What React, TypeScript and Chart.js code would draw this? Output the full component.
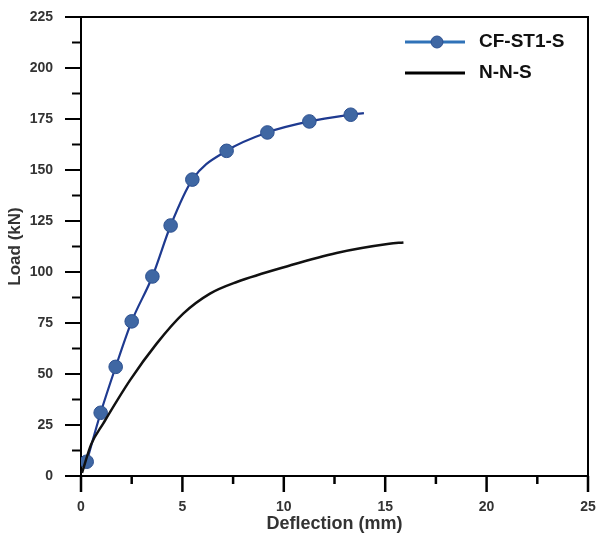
import React, { useEffect, useRef } from "react";
import { Chart, registerables } from "chart.js";

Chart.register(...registerables);

// CF-ST1-S (with markers; last point is the curve end without marker)
const cfX = [0.28, 0.97, 1.71, 2.5, 3.52, 4.42, 5.49, 7.18, 9.19, 11.26, 13.3, 13.95];
const cfY = [7.0, 31.0, 53.5, 75.8, 97.8, 122.8, 145.3, 159.4, 168.4, 173.8, 177.1, 177.9];

// N-N-S
const nnX = [0.05, 0.5, 1.1, 2.42, 3.73, 5.04, 6.36, 7.68, 10.3, 12.6, 15.2, 15.9];
const nnY = [1.5, 15.5, 25.8, 47, 64.9, 79.6, 89.4, 95.1, 103.2, 109.3, 113.8, 114.5];

const seriesNames = ["CF-ST1-S", "N-N-S"];
const xTitle = "Deflection (mm)";
const yTitle = "Load (kN)";
const xMin = 0, xMax = 25, xStep = 5, xMinorStep = 2.5;
const yMin = 0, yMax = 225, yStep = 25, yMinorStep = 12.5;

const FONT = "'Liberation Sans', Arial, sans-serif";
const BLUE_LINE = "#1e3a90";
const MARKER = "#3f67a3";
const MARKER_EDGE = "#2c5090";
const LEGEND_BLUE = "#2f72b8";

const framePlugin = {
  id: "frame",
  afterDraw(chart: any) {
    const ctx = chart.ctx;
    const { left, right, top, bottom } = chart.chartArea;
    const xs = chart.scales.x;
    const ys = chart.scales.y;
    ctx.save();
    ctx.strokeStyle = "#000";
    ctx.lineWidth = 2;
    ctx.lineCap = "butt";
    // top and right frame
    ctx.beginPath();
    ctx.moveTo(left - 16, top);
    ctx.lineTo(right, top);
    ctx.lineTo(right, bottom);
    ctx.stroke();
    // x ticks
    for (let v = xMin; v <= xMax + 1e-9; v += xMinorStep) {
      const major = Math.abs(v / xStep - Math.round(v / xStep)) < 1e-6;
      const px = xs.getPixelForValue(v);
      ctx.lineWidth = 2.5;
      ctx.beginPath();
      ctx.moveTo(px, bottom);
      ctx.lineTo(px, bottom + (major ? 16 : 8));
      ctx.stroke();
    }
    // y ticks
    for (let v = yMin; v <= yMax + 1e-9; v += yMinorStep) {
      const major = Math.abs(v / yStep - Math.round(v / yStep)) < 1e-6;
      const py = ys.getPixelForValue(v);
      ctx.lineWidth = 2;
      ctx.beginPath();
      ctx.moveTo(left, py);
      ctx.lineTo(left - (major ? 16 : 9), py);
      ctx.stroke();
    }
    // legend
    const lx0 = right - 183;
    const lx1 = right - 123;
    const tx = right - 109;
    const ly1 = top + 25;
    const ly2 = top + 56;
    ctx.lineWidth = 3;
    ctx.strokeStyle = LEGEND_BLUE;
    ctx.beginPath();
    ctx.moveTo(lx0, ly1);
    ctx.lineTo(lx1, ly1);
    ctx.stroke();
    ctx.fillStyle = MARKER;
    ctx.strokeStyle = MARKER_EDGE;
    ctx.lineWidth = 1;
    ctx.beginPath();
    ctx.arc((lx0 + lx1) / 2 + 2, ly1, 6, 0, Math.PI * 2);
    ctx.fill();
    ctx.stroke();
    ctx.strokeStyle = "#000";
    ctx.lineWidth = 3;
    ctx.beginPath();
    ctx.moveTo(lx0, ly2);
    ctx.lineTo(lx1, ly2);
    ctx.stroke();
    ctx.fillStyle = "#111";
    ctx.font = `bold 19px ${FONT}`;
    ctx.textAlign = "left";
    ctx.textBaseline = "middle";
    ctx.fillText(seriesNames[0], tx, ly1);
    ctx.fillText(seriesNames[1], tx, ly2);
    ctx.restore();
  },
};

function zeroPad(scale: any) {
  scale.paddingTop = 0;
  scale.paddingBottom = 0;
  scale.paddingLeft = 0;
  scale.paddingRight = 0;
}

export default function App() {
  const ref = useRef<HTMLCanvasElement>(null);
  useEffect(() => {
    if (!ref.current) return;
    const cfData = cfX.map((x, i) => ({ x, y: cfY[i] }));
    const nnData = nnX.map((x, i) => ({ x, y: nnY[i] }));
    const chart = new Chart(ref.current, {
      type: "line",
      data: {
        datasets: [
          {
            label: seriesNames[1],
            data: nnData,
            borderColor: "#111",
            borderWidth: 2.5,
            pointRadius: 0,
            tension: 0.4,
            cubicInterpolationMode: "monotone",
            fill: false,
          },
          {
            label: seriesNames[0],
            data: cfData,
            borderColor: BLUE_LINE,
            borderWidth: 2.2,
            pointRadius: cfData.map((_, i) => (i === cfData.length - 1 ? 0 : 6.8)),
            pointBackgroundColor: MARKER,
            pointBorderColor: MARKER_EDGE,
            pointBorderWidth: 1,
            tension: 0.4,
            cubicInterpolationMode: "monotone",
            fill: false,
          },
        ],
      },
      options: {
        responsive: false,
        animation: false,
        layout: { padding: { top: 17, right: 9, left: 0, bottom: 0 } },
        plugins: { legend: { display: false }, tooltip: { enabled: false } },
        scales: {
          x: {
            type: "linear",
            min: xMin,
            max: xMax,
            grid: { display: false },
            border: { display: true, color: "#000", width: 2 },
            ticks: {
              stepSize: xStep,
              padding: 15,
              color: "#333",
              font: { family: FONT, size: 14, weight: "bold" },
              maxRotation: 0,
            },
            title: {
              display: true,
              text: xTitle,
              color: "#333",
              font: { family: FONT, size: 18, weight: "bold" },
              padding: { top: 0, bottom: 4 },
            },
            afterFit(scale: any) {
              scale.height = 63;
              zeroPad(scale);
            },
          },
          y: {
            min: yMin,
            max: yMax,
            grid: { display: false },
            border: { display: true, color: "#000", width: 2 },
            ticks: {
              stepSize: yStep,
              padding: 20,
              color: "#333",
              font: { family: FONT, size: 14, weight: "bold" },
            },
            title: {
              display: true,
              text: yTitle,
              color: "#333",
              font: { family: FONT, size: 17, weight: "bold" },
              padding: { top: 5, bottom: 0 },
            },
            afterFit(scale: any) {
              scale.width = 81;
              zeroPad(scale);
            },
          },
        },
      } as any,
      plugins: [framePlugin],
    });
    return () => chart.destroy();
  }, []);
  return (
    <div style={{ position: "absolute", left: 0, top: 0, width: 597, height: 539, background: "#fff" }}>
      <canvas ref={ref} width={597} height={539} />
    </div>
  );
}
